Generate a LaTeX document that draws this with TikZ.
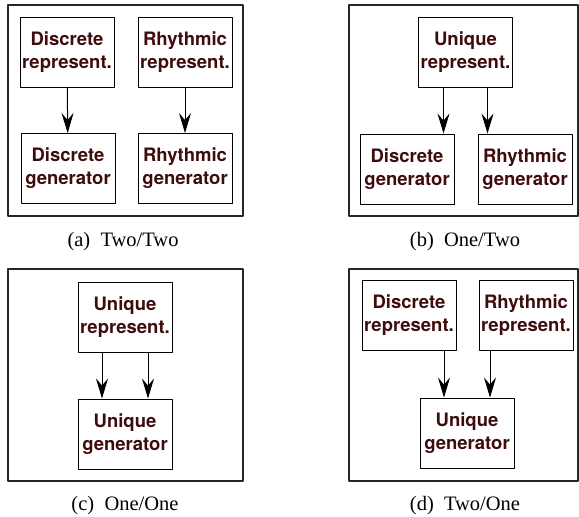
\documentclass[tikz,border=0pt]{standalone}
\usepackage{fontspec}
\setmainfont{Liberation Serif}
\newfontfamily\boxfont{TeX Gyre Heros}
\usepackage{xcolor}
\usetikzlibrary{arrows.meta,calc}

\definecolor{boxtext}{RGB}{62,12,12}

\tikzset{
  unit/.style={draw=black,line width=0.9pt,minimum width=94pt,minimum height=70pt,
    inner sep=0pt,align=center,text=boxtext,
    font=\boxfont\bfseries\fontsize{18.5}{23}\selectfont},
  panel/.style={draw=black!85,line width=1.2pt},
  flow/.style={-{Stealth[length=20pt,width=12pt,inset=7pt]},line width=1pt},
  subcap/.style={anchor=base,font=\fontsize{20.5}{24}\selectfont}
}

\begin{document}
\begin{tikzpicture}[x=1pt,y=-1pt,line join=round]
  \useasboundingbox (0,0) rectangle (579,517);
  % (a) two representations, two generators
  \draw[panel] (8,5) rectangle (243,216);
  \node[unit] (aDR) at (67,52) {Discrete\\represent.};
  \node[unit] (aRR) at (185,52) {Rhythmic\\represent.};
  \node[unit] (aDG) at (68,168.5) {Discrete\\generator};
  \node[unit] (aRG) at (185,168.5) {Rhythmic\\generator};
  \draw[flow] (aDR) -- (aDG);
  \draw[flow] (aRR) -- (aRG);
  \node[subcap] at (123,246) {(a)\hspace{0.5em}Two/Two};
  % (b) one representation, two generators
  \draw[panel] (349,5) rectangle (578,216);
  \node[unit] (bUR) at (465.5,52) {Unique\\represent.};
  \node[unit] (bDG) at (407,169) {Discrete\\generator};
  \node[unit] (bRG) at (525,169) {Rhythmic\\generator};
  \draw[flow] ([xshift=-22pt]bUR.south) -- ([xshift=-22pt]bUR.south |- bDG.north);
  \draw[flow] ([xshift=22pt]bUR.south) -- ([xshift=22pt]bUR.south |- bRG.north);
  \node[subcap] at (465,246) {(b)\hspace{0.5em}One/Two};
  % (c) one representation, one generator
  \draw[panel] (8,269) rectangle (243,481);
  \node[unit] (cUR) at (125,317) {Unique\\represent.};
  \node[unit] (cUG) at (125,434) {Unique\\generator};
  \draw[flow] ([xshift=-23pt]cUR.south) -- ([xshift=-23pt]cUG.north);
  \draw[flow] ([xshift=23pt]cUR.south) -- ([xshift=23pt]cUG.north);
  \node[subcap] at (125,510) {(c)\hspace{0.5em}One/One};
  % (d) two representations, one generator
  \draw[panel] (349,269) rectangle (578,481);
  \node[unit] (dDR) at (409,315.5) {Discrete\\represent.};
  \node[unit] (dRR) at (526,315.5) {Rhythmic\\represent.};
  \node[unit] (dUG) at (467,433) {Unique\\generator};
  \draw[flow] ([xshift=-23pt]dUG.north |- dDR.south) -- ([xshift=-23pt]dUG.north);
  \draw[flow] ([xshift=23pt]dUG.north |- dRR.south) -- ([xshift=23pt]dUG.north);
  \node[subcap] at (465,510) {(d)\hspace{0.5em}Two/One};
\end{tikzpicture}
\end{document}
